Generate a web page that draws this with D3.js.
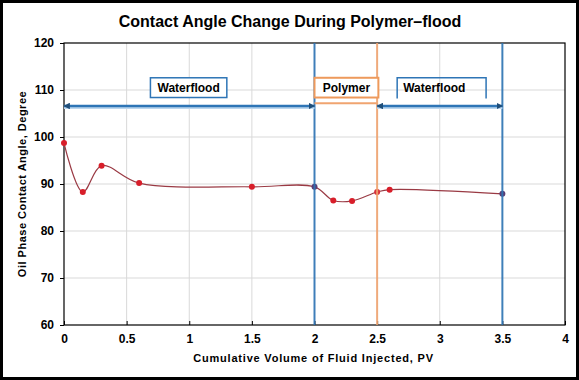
<!DOCTYPE html>
<html>
<head>
<meta charset="utf-8">
<script src="https://cdn.jsdelivr.net/npm/d3@7"></script>
<style>
body { margin: 0; background: #fff; }
text { font-family: "Liberation Sans", Arial, sans-serif; font-weight: bold; fill: #000; }
</style>
</head>
<body>
<div id="chart"></div>
<script>
// measured points (PV, degree)
var pv = [0, 0.15, 0.3, 0.6, 1.5, 2.0, 2.15, 2.3, 2.5, 2.6, 3.5];
var angle = [98.7, 88.3, 93.9, 90.2, 89.4, 89.4, 86.5, 86.4, 88.3, 88.8, 87.9];

var xTicks = [0, 0.5, 1, 1.5, 2, 2.5, 3, 3.5, 4];
var yTicks = [60, 70, 80, 90, 100, 110, 120];

// phase boundaries and labels
var bounds = [2, 2.5, 3.5];
var boundKind = ["water", "polymer", "water"];
var phaseNames = ["Waterflood", "Polymer", "Waterflood"];
var phaseFrom = [0, 2, 2.5];
var phaseTo = [2, 2.5, 3.5];
var arrowLevel = [106.6, 107.2, 106.6];
var boxFrom = [0.69, 2.0, 2.66];
var boxTo = [1.30, 2.51, 3.37];
var boxTop = 112.6, boxBottom = 108.4;

var W = 579, H = 380;
var blue = "#2E75B6", orange = "#F0A470";

var x = d3.scaleLinear().domain([0, 4]).range([64, 565]);
var y = d3.scaleLinear().domain([60, 120]).range([325, 43]);

var svg = d3.select("#chart").append("svg")
    .attr("width", W).attr("height", H);

var defs = svg.append("defs");
defs.append("marker")
    .attr("id", "arrB")
    .attr("viewBox", "0 0 10 10")
    .attr("refX", 9).attr("refY", 5)
    .attr("markerWidth", 2.6).attr("markerHeight", 2.6)
    .attr("orient", "auto-start-reverse")
    .append("path")
    .attr("d", "M0,0 L10,5 L0,10 z")
    .attr("fill", "#1f4e79");

// outer frame
svg.append("rect")
    .attr("x", 1.5).attr("y", 1.5)
    .attr("width", W - 3).attr("height", H - 3)
    .attr("fill", "#fff").attr("stroke", "#000").attr("stroke-width", 3);

// title
svg.append("text")
    .attr("x", 290).attr("y", 27)
    .attr("text-anchor", "middle")
    .style("font-size", "16px")
    .text("Contact Angle Change During Polymer\u2013flood");

// grid
svg.append("g").selectAll("line")
    .data(xTicks.slice(1, -1))
    .enter().append("line")
    .attr("x1", function (d) { return x(d); })
    .attr("x2", function (d) { return x(d); })
    .attr("y1", y(60)).attr("y2", y(120))
    .attr("stroke", "#d9d9d9").attr("stroke-width", 1);

svg.append("g").selectAll("line")
    .data(yTicks.slice(1, -1))
    .enter().append("line")
    .attr("y1", function (d) { return y(d); })
    .attr("y2", function (d) { return y(d); })
    .attr("x1", x(0)).attr("x2", x(4))
    .attr("stroke", "#d9d9d9").attr("stroke-width", 1);

// axes
var xAxis = d3.axisBottom(x).tickValues(xTicks).tickSizeInner(-4).tickSizeOuter(0).tickPadding(9)
    .tickFormat(d3.format("~g"));
var yAxis = d3.axisLeft(y).tickValues(yTicks).tickSizeInner(4).tickSizeOuter(0).tickPadding(6);

var gx = svg.append("g")
    .attr("transform", "translate(0," + y(60) + ")")
    .call(xAxis);
var gy = svg.append("g")
    .attr("transform", "translate(" + x(0) + ",0)")
    .call(yAxis);
[gx, gy].forEach(function (g) {
    g.select(".domain").remove();
    g.selectAll("line").attr("stroke", "#000");
    g.selectAll("text").style("font-size", "12px").style("font-family", "Liberation Sans, Arial, sans-serif")
        .style("font-weight", "bold").attr("fill", "#000");
});

// plot border
svg.append("rect")
    .attr("x", x(0)).attr("y", y(120))
    .attr("width", x(4) - x(0)).attr("height", y(60) - y(120))
    .attr("fill", "none").attr("stroke", "#000").attr("stroke-width", 1.2);

// axis titles
svg.append("text")
    .attr("x", (x(0) + x(4)) / 2 - 1).attr("y", 362)
    .attr("text-anchor", "middle")
    .style("font-size", "11px")
    .style("letter-spacing", "0.8px")
    .text("Cumulative Volume of Fluid Injected, PV");

svg.append("text")
    .attr("transform", "translate(26," + 184 + ") rotate(-90)")
    .attr("text-anchor", "middle")
    .style("font-size", "11px")
    .style("letter-spacing", "0.5px")
    .text("Oil Phase Contact Angle, Degree");

// data curve
var pts = pv.map(function (d, i) { return [d, angle[i]]; });
var line = d3.line()
    .x(function (d) { return x(d[0]); })
    .y(function (d) { return y(d[1]); })
    .curve(d3.curveCatmullRom.alpha(0.5));

svg.append("path")
    .datum(pts)
    .attr("d", line)
    .attr("fill", "none")
    .attr("stroke", "#9a3a44")
    .attr("stroke-width", 1.2);

svg.append("g").selectAll("circle")
    .data(pts)
    .enter().append("circle")
    .attr("cx", function (d) { return x(d[0]); })
    .attr("cy", function (d) { return y(d[1]); })
    .attr("r", 3)
    .attr("fill", function (d) {
        var k = bounds.indexOf(d[0]);
        if (k < 0) return "#d81e2a";
        return boundKind[k] === "water" ? "#5b3d73" : "#d8323a";
    });

// phase boundaries
svg.append("g").selectAll("line")
    .data(bounds)
    .enter().append("line")
    .attr("x1", function (d) { return x(d); })
    .attr("x2", function (d) { return x(d); })
    .attr("y1", y(120)).attr("y2", y(60))
    .attr("stroke", function (d, i) { return boundKind[i] === "water" ? blue : orange; })
    .attr("stroke-width", 2)
    .attr("opacity", 0.9);

// phase arrows
phaseNames.forEach(function (name, i) {
    var col = i === 1 ? orange : blue;
    if (i !== 1) {
        svg.append("line")
            .attr("x1", x(phaseFrom[i])).attr("x2", x(phaseTo[i]))
            .attr("y1", y(arrowLevel[i]) + 2).attr("y2", y(arrowLevel[i]) + 2)
            .attr("stroke", "#bdd7ee").attr("stroke-width", 2);
    }
    svg.append("line")
        .attr("x1", x(phaseFrom[i])).attr("x2", x(phaseTo[i]))
        .attr("y1", y(arrowLevel[i])).attr("y2", y(arrowLevel[i]))
        .attr("stroke", col).attr("stroke-width", i === 1 ? 2 : 2.5)
        .attr("marker-start", i === 1 ? null : "url(#arrB)")
        .attr("marker-end", i === 1 ? null : "url(#arrB)");
});

// phase label boxes
phaseNames.forEach(function (name, i) {
    var x0 = x(boxFrom[i]), x1 = x(boxTo[i]);
    var yt = y(boxTop), yb = y(boxBottom);
    var col = i === 1 ? "#ee9a5c" : blue;
    if (i === 2) {
        svg.append("path")
            .attr("d", "M" + x0 + "," + (yb + 1) + "V" + yt + "H" + x1 + "V" + (yb + 1))
            .attr("fill", "none").attr("stroke", col).attr("stroke-width", 1.5);
    } else {
        svg.append("rect")
            .attr("x", x0).attr("y", yt)
            .attr("width", x1 - x0).attr("height", yb - yt)
            .attr("fill", "#fff").attr("stroke", col).attr("stroke-width", i === 1 ? 2 : 1.5);
    }
    svg.append("text")
        .attr("x", i === 2 ? x0 + 6 : (x0 + x1) / 2)
        .attr("y", (yt + yb) / 2 + 4)
        .attr("text-anchor", i === 2 ? "start" : "middle")
        .style("font-size", "12px")
        .text(name);
});
</script>
</body>
</html>
